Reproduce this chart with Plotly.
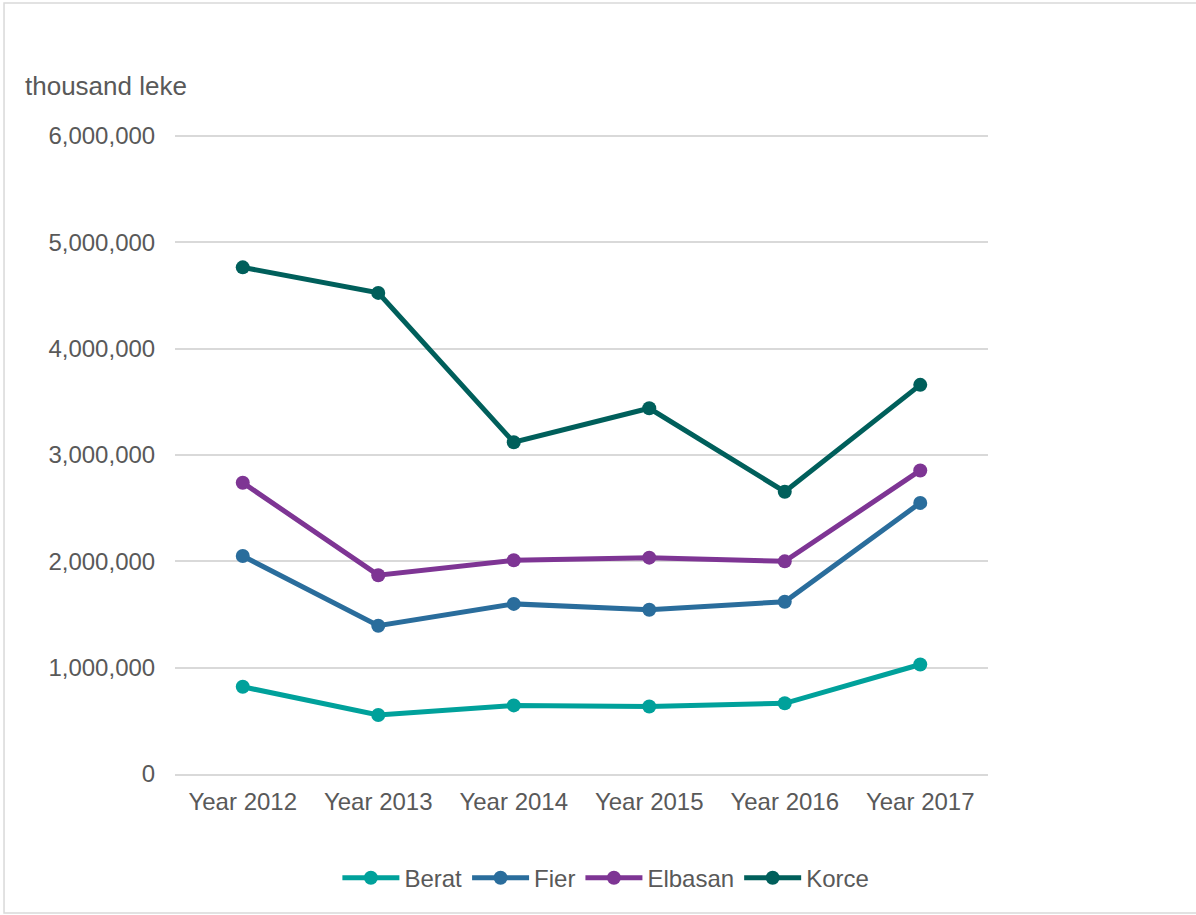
import plotly.graph_objects as go

years = ["Year 2012", "Year 2013", "Year 2014", "Year 2015", "Year 2016", "Year 2017"]
berat = [820000, 555000, 645000, 635000, 665000, 1030000]
fier = [2050000, 1395000, 1600000, 1545000, 1620000, 2550000]
elbasan = [2740000, 1870000, 2010000, 2035000, 2000000, 2855000]
korce = [4765000, 4525000, 3120000, 3440000, 2655000, 3660000]

series = [("Berat", berat, "#00A19B"), ("Fier", fier, "#2A6D9C"),
          ("Elbasan", elbasan, "#7E3594"), ("Korce", korce, "#005F5B")]

fig = go.Figure()
for name, vals, col in series:
    fig.add_trace(go.Scatter(x=years, y=vals, name=name, mode="lines+markers",
                             line=dict(color=col, width=5),
                             marker=dict(color=col, size=14)))

FAM = "Liberation Sans, Arial, sans-serif"
font = dict(family=FAM, size=24, color="#595959")
fig.update_layout(
    width=1196, height=915,
    margin=dict(l=175, r=208, t=135, b=141),
    paper_bgcolor="white", plot_bgcolor="white",
    font=font,
    showlegend=True,
    legend=dict(orientation="h", x=0.53, xanchor="center", y=-0.163, yanchor="middle",
                font=font, itemwidth=57, tracegroupgap=0),
    xaxis=dict(range=[-0.5, 5.5], showgrid=False, showline=True, linecolor="#D9D9D9",
               linewidth=2, ticks="outside", ticklen=5, tickcolor="rgba(0,0,0,0)",
               tickfont=font, fixedrange=True),
    yaxis=dict(range=[0, 6010000], tickvals=[0, 1000000, 2000000, 3000000, 4000000, 5000000, 6000000],
               tickformat=",d", showgrid=True, gridcolor="#D9D9D9", gridwidth=2,
               zeroline=False, showline=False, ticks="outside", ticklen=14, tickcolor="rgba(0,0,0,0)",
               tickfont=font, fixedrange=True),
    annotations=[dict(text="thousand leke", xref="paper", yref="paper", x=-0.187, y=1.077,
                      xanchor="left", yanchor="middle", showarrow=False,
                      font=dict(family=FAM, size=26, color="#595959"))],
    shapes=[dict(type="rect", xref="paper", yref="paper", x0=-0.2103, x1=1.28, y0=-0.2175, y1=1.2066,
                 line=dict(color="#D9D9D9", width=1.5))],
)
fig.write_html("out.html", config={"displayModeBar": False},
               post_script="document.body.style.margin='0';document.body.style.overflow='hidden';")
